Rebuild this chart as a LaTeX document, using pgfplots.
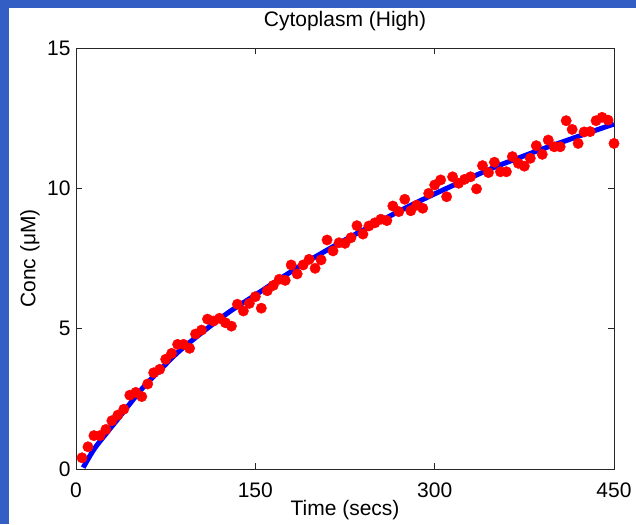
\documentclass[border=0pt]{standalone}
\usepackage{fontspec}
\setmainfont{Liberation Sans}
\usepackage{pgfplots}
\pgfplotsset{compat=1.18}
\usepackage{pgfplotstable}
\definecolor{bgblue}{RGB}{51,94,196}
\definecolor{mred}{RGB}{255,0,0}
\definecolor{mblue}{RGB}{0,0,255}
\pgfplotstableread{
t c
5 0.40
10 0.79
15 1.19
20 1.19
25 1.41
30 1.72
35 1.92
40 2.13
45 2.63
50 2.73
55 2.58
60 3.03
65 3.43
70 3.55
75 3.91
80 4.12
85 4.44
90 4.44
95 4.30
100 4.81
105 4.95
110 5.34
115 5.27
120 5.37
125 5.21
130 5.09
135 5.87
140 5.63
145 5.90
150 6.14
155 5.73
160 6.35
165 6.54
170 6.76
175 6.72
180 7.27
185 6.95
190 7.27
195 7.47
200 7.15
205 7.45
210 8.16
215 7.77
220 8.06
225 8.04
230 8.24
235 8.67
240 8.37
245 8.66
250 8.77
255 8.90
260 8.85
265 9.37
270 9.17
275 9.61
280 9.20
285 9.40
290 9.29
295 9.82
300 10.12
305 10.30
310 9.70
315 10.41
320 10.18
325 10.32
330 10.41
335 9.98
340 10.81
345 10.56
350 10.93
355 10.59
360 10.59
365 11.13
370 10.89
375 10.79
380 11.07
385 11.52
390 11.21
395 11.72
400 11.48
405 11.48
410 12.41
415 12.10
420 11.60
425 12.01
430 12.02
435 12.41
440 12.53
445 12.43
450 11.60
}\datatable
\pgfplotstableread{
t c
6 0.05
15 0.70
25 1.25
35 1.78
45 2.32
55 2.85
65 3.30
75 3.73
85 4.15
100 4.68
115 5.18
130 5.65
150 6.20
170 6.76
190 7.30
210 7.80
230 8.28
250 8.73
270 9.18
290 9.60
310 10.00
330 10.38
350 10.75
370 11.08
390 11.40
410 11.70
430 12.00
450 12.29
}\fittable
\begin{document}
\begin{tikzpicture}
\useasboundingbox (0,0) rectangle (636pt,524pt);
\fill[bgblue] (0,0) rectangle (636pt,524pt);
\fill[white] (9pt,0) rectangle (636pt,516pt);
\begin{axis}[
  at={(76pt,55pt)}, anchor=south west,
  scale only axis, width=538pt, height=421pt,
  xmin=0, xmax=450, ymin=0, ymax=15,
  xtick={0,150,300,450}, ytick={0,5,10,15},
  tick align=inside, major tick length=6pt,
  axis line style={black!85, line width=0.8pt},
  every tick/.style={black!85, line width=0.8pt},
  clip=false,
  /pgf/number format/assume math mode=true,
  tick label style={font=\fontsize{21}{25}\selectfont},
  xticklabel style={anchor=base, yshift=-28.5pt},
  yticklabel style={anchor=east, xshift=-2pt},
  title={Cytoplasm (High)},
  title style={font=\fontsize{21}{25}\selectfont, at={(axis description cs:0.5,1)}, anchor=base, yshift=15pt},
  xlabel={Time (secs)},
  ylabel={Conc (μM)},
  every axis x label/.style={at={(axis description cs:0.5,0)}, anchor=center, yshift=-41pt, font=\fontsize{21}{25}\selectfont},
  every axis y label/.style={at={(axis description cs:-0.0855,0.5)}, rotate=90, anchor=center, font=\fontsize{21}{25}\selectfont},
]
\addplot[only marks, color=mred, mark=*, mark size=5.2pt, mark options={solid, fill=mred, draw=mred}] table[x=t,y=c] {\datatable};
\addplot[mblue, line width=5pt, smooth, line cap=butt] table[x=t,y=c] {\fittable};
\end{axis}
\end{tikzpicture}
\end{document}
